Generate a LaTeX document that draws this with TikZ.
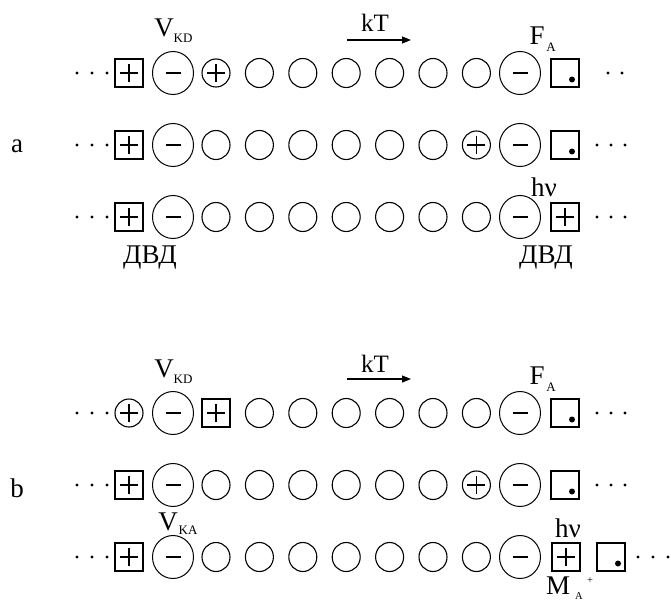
\documentclass[tikz,border=0pt]{standalone}
\usepackage{fontspec}
\setmainfont{Liberation Serif}
\usetikzlibrary{shapes.geometric,arrows.meta}
\begin{document}
\begin{tikzpicture}[x=1pt,y=-1pt,
  sm/.style={draw,ellipse,minimum width=28pt,minimum height=29pt,inner sep=0pt,line width=1.1pt},
  smp/.style={sm,minimum height=28pt,path picture={
    \draw[line width=1.1pt] ([xshift=-9pt]path picture bounding box.center) -- ([xshift=9pt]path picture bounding box.center);
    \draw[line width=1.1pt] ([yshift=-9pt]path picture bounding box.center) -- ([yshift=9pt]path picture bounding box.center);}},
  big/.style={draw,ellipse,minimum width=41pt,minimum height=43pt,inner sep=0pt,line width=1pt,path picture={
    \draw[line width=1.3pt] ([xshift=-7.5pt]path picture bounding box.center) -- ([xshift=7.5pt]path picture bounding box.center);}},
  sqp/.style={draw,rectangle,minimum size=28pt,inner sep=0pt,line width=1.5pt,path picture={
    \draw[line width=1.2pt] ([xshift=-9pt]path picture bounding box.center) -- ([xshift=9pt]path picture bounding box.center);
    \draw[line width=1.2pt] ([yshift=-9pt]path picture bounding box.center) -- ([yshift=9pt]path picture bounding box.center);}},
  sqd/.style={draw,rectangle,minimum size=28pt,inner sep=0pt,line width=1.5pt,path picture={
    \fill ([xshift=7pt,yshift=-6.5pt]path picture bounding box.center) circle (3pt);}},
  dt/.style={circle,fill,inner sep=0pt,minimum size=3.4pt},
  lab/.style={font=\fontsize{27}{30}\selectfont,inner sep=0pt,anchor=base},
  labk/.style={font=\fontsize{25}{28}\selectfont,inner sep=0pt,anchor=base},
  sub/.style={font=\fontsize{13}{15}\selectfont,inner sep=0pt,anchor=base},
  subs/.style={font=\fontsize{10.5}{12}\selectfont,inner sep=0pt,anchor=base},
  arr/.style={line width=1.1pt,-{Triangle[length=9pt,width=7pt]}}]
\useasboundingbox (0,0) rectangle (671,602);

% ---------- part a ----------
\node[lab] (la) at (17,152) {a};
% row 1
\foreach \k/\x in {1/77,2/92,3/107} \node[dt] (r1d\k) at (\x,73) {};
\node[sqp] (r1s) at (129,73) {};
\node[big] (r1m) at (173,73) {};
\node[smp] (r1p) at (216,73) {};
\foreach \i in {1,...,6} \node[sm] (r1c\i) at ({216+43.4*\i},73) {};
\node[big] (r1n) at (520,73) {};
\node[sqd] (r1q) at (565,73) {};
\foreach \k/\x in {1/608,2/622} \node[dt] (r1e\k) at (\x,73) {};
\node[lab] (vkd1) at (164,37) {V};
\node[sub] (vkd1s) at (183,43) {KD};
\node[labk] (kt1) at (375,32) {kT};
\coordinate (kt1a) at (347,40);
\coordinate (kt1b) at (411,40);
\draw[arr] (kt1a) -- (kt1b);
\node[lab] (fa1) at (537,45) {F};
\node[sub] (fa1s) at (551,52) {A};
% row 2
\foreach \k/\x in {1/77,2/92,3/107} \node[dt] (r2d\k) at (\x,145) {};
\node[sqp] (r2s) at (129,145) {};
\node[big] (r2m) at (173,145) {};
\foreach \i in {0,...,5} \node[sm] (r2c\i) at ({216+43.4*\i},145) {};
\node[smp] (r2p) at (476.4,145) {};
\node[big] (r2n) at (520,145) {};
\node[sqd] (r2q) at (565,145) {};
\foreach \k/\x in {1/597,2/611,3/625} \node[dt] (r2e\k) at (\x,145) {};
% row 3
\foreach \k/\x in {1/77,2/92,3/107} \node[dt] (r3d\k) at (\x,217) {};
\node[sqp] (r3s) at (129,217) {};
\node[big] (r3m) at (173,217) {};
\foreach \i in {0,...,6} \node[sm] (r3c\i) at ({216+43.4*\i},217) {};
\node[big] (r3n) at (520,217) {};
\node[sqp] (r3q) at (565,217) {};
\foreach \k/\x in {1/597,2/611,3/625} \node[dt] (r3e\k) at (\x,217) {};
\node[lab] (hv1) at (544,196) {hν};
\node[lab] (dvd1) at (150,263) {ДВД};
\node[lab] (dvd2) at (546,263) {ДВД};

% ---------- part b ----------
\node[lab] (lb) at (17,497) {b};
% row 4
\foreach \k/\x in {1/77,2/92,3/107} \node[dt] (r4d\k) at (\x,413) {};
\node[smp] (r4p) at (129,413) {};
\node[big] (r4m) at (173,413) {};
\node[sqp] (r4s) at (216,413) {};
\foreach \i in {1,...,6} \node[sm] (r4c\i) at ({216+43.4*\i},413) {};
\node[big] (r4n) at (520,413) {};
\node[sqd] (r4q) at (565,413) {};
\foreach \k/\x in {1/597,2/611,3/625} \node[dt] (r4e\k) at (\x,413) {};
\node[lab] (vkd2) at (164,377) {V};
\node[sub] (vkd2s) at (183,383) {KD};
\node[labk] (kt2) at (375,372) {kT};
\coordinate (kt2a) at (347,379);
\coordinate (kt2b) at (411,379);
\draw[arr] (kt2a) -- (kt2b);
\node[lab] (fa2) at (537,384) {F};
\node[sub] (fa2s) at (551,391) {A};
% row 5
\foreach \k/\x in {1/77,2/92,3/107} \node[dt] (r5d\k) at (\x,485) {};
\node[sqp] (r5s) at (129,485) {};
\node[big] (r5m) at (173,485) {};
\foreach \i in {0,...,5} \node[sm] (r5c\i) at ({216+43.4*\i},485) {};
\node[smp] (r5p) at (476.4,485) {};
\node[big] (r5n) at (520,485) {};
\node[sqd] (r5q) at (565,485) {};
\foreach \k/\x in {1/597,2/611,3/625} \node[dt] (r5e\k) at (\x,485) {};
% row 6
\foreach \k/\x in {1/77,2/92,3/107} \node[dt] (r6d\k) at (\x,557) {};
\node[sqp] (r6s) at (129,557) {};
\node[big] (r6m) at (173,557) {};
\foreach \i in {0,...,6} \node[sm] (r6c\i) at ({216+43.4*\i},557) {};
\node[big] (r6n) at (520,557) {};
\node[sqp] (r6q) at (566,557) {};
\node[sqd] (r6t) at (611,557) {};
\foreach \k/\x in {1/638,2/653,3/668} \node[dt] (r6e\k) at (\x,557) {};
\node[lab] (vka) at (168,530) {V};
\node[sub] (vkas) at (188,534) {KA};
\node[lab] (hv2) at (568,537) {hν};
\node[lab] (ma) at (558,594) {M};
\node[subs] (mas) at (579,599.5) {A};
\node[subs] (map) at (590,583) {+};
\end{tikzpicture}
\end{document}
